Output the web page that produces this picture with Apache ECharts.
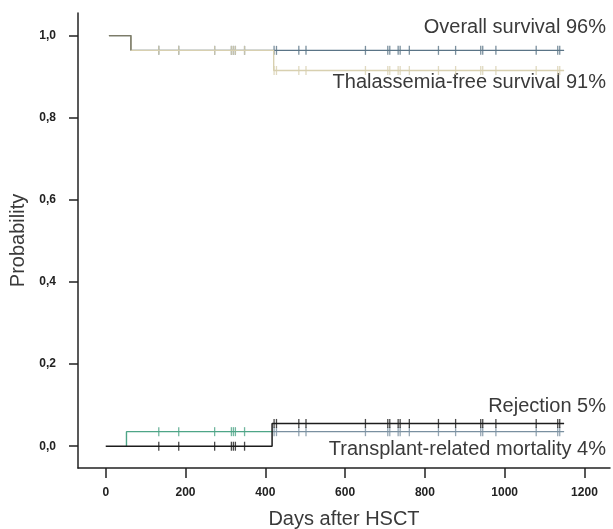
<!DOCTYPE html>
<html>
<head>
<meta charset="utf-8">
<script src="https://cdn.jsdelivr.net/npm/echarts@6/dist/echarts.min.js"></script>
<style>
html, body { margin: 0; padding: 0; background: #fff; }
#main { width: 613px; height: 529px; }
</style>
</head>
<body>
<div id="main"></div>
<script>
// axis ticks
let xTicks = [0, 200, 400, 600, 800, 1000, 1200];
let yTicks = [0, 0.2, 0.4, 0.6, 0.8, 1.0];

// follow-up window (days after HSCT)
let startDay = 8;
let endDay = 1149;
// day where the colour of the lower curve changes
let trmColourSwitch = 419;

// step events: [day, new probability]
let osEvents = [[63, 0.964]];
let tfsEvents = [[63, 0.964], [421, 0.915]];
let trmEvents = [[52, 0.0355]];
let rejEvents = [[417, 0.0555]];

// censored patients (days)
let censorDays = [133, 183, 273, 315, 320, 325, 348, 422, 428, 484, 502, 651, 707, 712,
    733, 738, 761, 834, 877, 940, 945, 978, 1079, 1133, 1138];

let labels = ['Overall survival 96%', 'Thalassemia-free survival 91%', 'Rejection 5%', 'Transplant-related mortality 4%'];

function levelAt(level0, events, d) {
    let lvl = level0;
    events.forEach(function (e) { if (d >= e[0]) lvl = e[1]; });
    return lvl;
}

function stepLine(start, level0, events, end) {
    let pts = [[start, levelAt(level0, events.filter(function (e) { return e[0] < start; }), start)]];
    let lvl = pts[0][1];
    events.forEach(function (e) {
        if (e[0] < start || e[0] > end) return;
        pts.push([e[0], lvl]);
        pts.push([e[0], e[1]]);
        lvl = e[1];
    });
    pts.push([end, lvl]);
    return pts;
}

function censorMarks(level0, events, from, to) {
    return censorDays.filter(function (d) { return d >= from && d < to; })
        .map(function (d) { return [d, levelAt(level0, events, d)]; });
}

const slate = '#5a7486';
const beige = '#d8d0b0';
const olive = '#7c7b69';
const green = '#4ea587';
const slateLow = '#7a90a0';
const black = '#1c1c1c';

let myChart = echarts.init(document.getElementById('main'));

function line(data, color, width, z) {
    return { type: 'line', data: data, showSymbol: false, silent: true, z: z, lineStyle: { color: color, width: width } };
}
function ticks(data, color, z) {
    return { type: 'scatter', data: data, symbol: 'rect', symbolSize: [1.3, 9], silent: true, z: z, itemStyle: { color: color } };
}

let labelFont = { fontSize: 20, fill: '#3a3a3a', fontFamily: 'Liberation Sans' };

let option = {
    animation: false,
    grid: { left: 78, right: 3, top: 13, bottom: 61, containLabel: false, outerBoundsMode: 'none' },
    xAxis: {
        type: 'value',
        min: -69.5,
        max: 1264,
        splitLine: { show: false },
        axisLine: { onZero: false, lineStyle: { color: '#222', width: 1.5 } },
        axisTick: { customValues: xTicks, length: 10, lineStyle: { color: '#222', width: 1.5 } },
        axisLabel: {
            customValues: xTicks, margin: 19, fontSize: 12, fontWeight: 'bold', color: '#222', fontFamily: 'Liberation Sans',
            formatter: function (v) { return String(v); }
        },
        name: 'Days after HSCT',
        nameLocation: 'middle',
        nameGap: 41,
        nameTextStyle: { fontSize: 20, color: '#3a3a3a', fontFamily: 'Liberation Sans' }
    },
    yAxis: {
        type: 'value',
        min: -0.053,
        max: 1.055,
        splitLine: { show: false },
        axisLine: { show: true, onZero: false, lineStyle: { color: '#222', width: 1.5 } },
        axisTick: { show: true, customValues: yTicks, length: 9, lineStyle: { color: '#222', width: 1.5 } },
        axisLabel: {
            customValues: yTicks, margin: 22, fontSize: 12, fontWeight: 'bold', color: '#222', fontFamily: 'Liberation Sans',
            formatter: function (v) { return v.toFixed(1).replace('.', ','); }
        },
        name: 'Probability',
        nameLocation: 'middle',
        nameRotate: 90,
        nameGap: 49,
        nameTextStyle: { fontSize: 20, color: '#3a3a3a', fontFamily: 'Liberation Sans' }
    },
    series: [
        // overall survival
        line(stepLine(startDay, 1, osEvents, endDay), slate, 1.4, 2),
        ticks(censorMarks(1, osEvents, 0, endDay), slate, 2),
        // thalassemia-free survival, drawn over OS
        line(stepLine(startDay, 1, tfsEvents, endDay), beige, 1.4, 3),
        ticks(censorMarks(1, tfsEvents, 0, endDay), beige, 3),
        // common start of both survival curves
        line(stepLine(startDay, 1, osEvents.slice(0, 1), osEvents[0][0]), olive, 1.4, 4),
        // transplant-related mortality: green, then slate after the switch day
        line(stepLine(trmEvents[0][0], 0, trmEvents, trmColourSwitch), green, 1.4, 2),
        line(stepLine(trmColourSwitch, 0, trmEvents, endDay), slateLow, 1.4, 2),
        ticks(censorMarks(0, trmEvents, 0, trmColourSwitch), green, 2),
        ticks(censorMarks(0, trmEvents, trmColourSwitch, endDay), slateLow, 2),
        // rejection
        line(stepLine(0, 0, rejEvents, endDay), black, 1.5, 3),
        ticks(censorMarks(0, rejEvents, 0, endDay), black, 3)
    ],
    graphic: [
        { type: 'text', right: 7, top: 17, style: Object.assign({ text: labels[0] }, labelFont) },
        { type: 'text', right: 7, top: 72, style: Object.assign({ text: labels[1] }, labelFont) },
        { type: 'text', right: 7, top: 396, style: Object.assign({ text: labels[2] }, labelFont) },
        { type: 'text', right: 7, top: 439, style: Object.assign({ text: labels[3] }, labelFont) }
    ]
};

myChart.setOption(option);
</script>
</body>
</html>
